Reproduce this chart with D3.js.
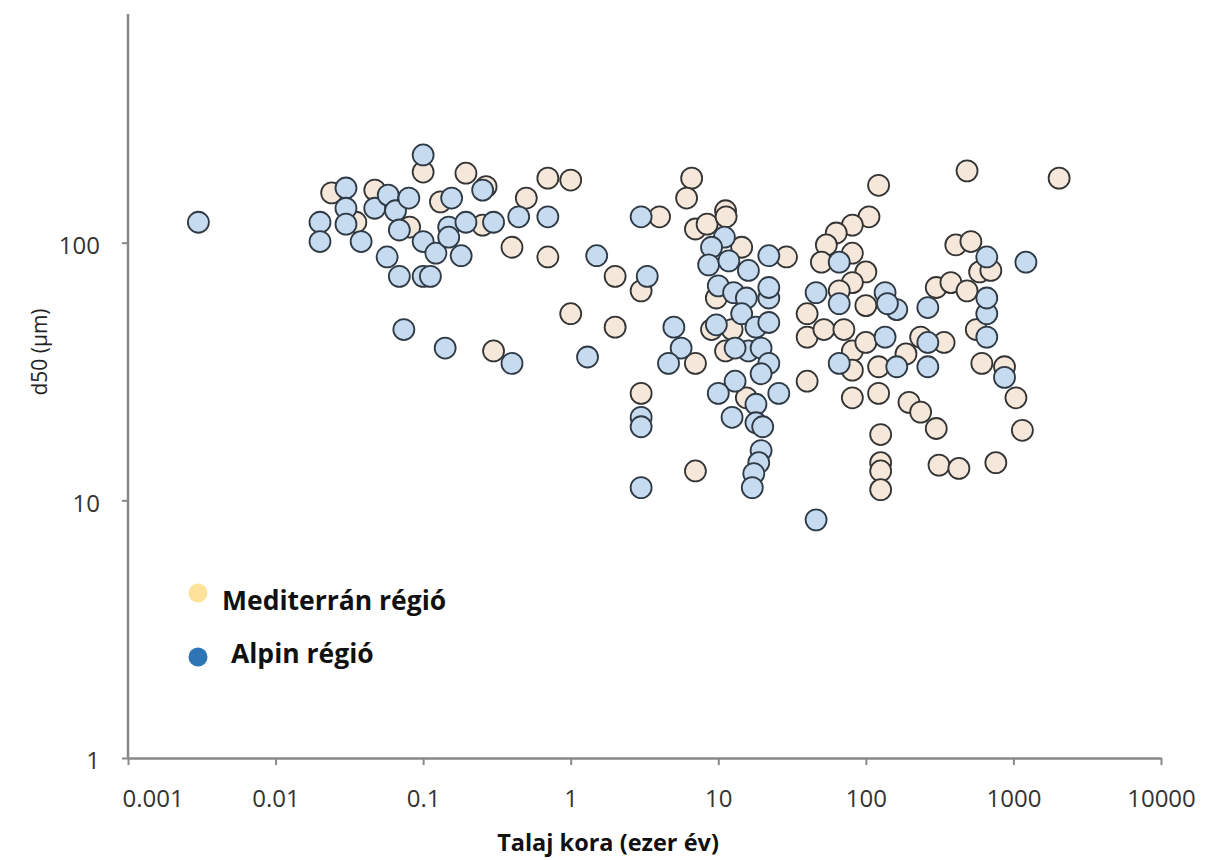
<!DOCTYPE html>
<html>
<head>
<meta charset="utf-8">
<script src="https://cdnjs.cloudflare.com/ajax/libs/d3/7.8.5/d3.min.js"></script>
<style>
  body { margin: 0; background: #fff; }
  svg { display: block; }
</style>
</head>
<body>
<svg class="plot" width="1214" height="860"></svg>
<script>

// soil age (thousand years) and d50 (µm)
var medAge = [0.024, 0.035, 0.047, 0.081, 0.1, 0.195, 0.267, 0.131, 0.253, 0.4, 0.5, 0.7, 1.0, 0.7, 1.0, 0.3,
    2.0, 3.0, 2.0, 3.0, 4.0, 6.6, 6.1, 7.0, 8.4, 11.2, 11.3, 14.4, 29, 9.7, 9.0, 12.4, 11.2, 7.0, 15.5, 7.0,
    40, 40, 40, 122, 485, 2040, 105, 81, 63, 54, 50, 81, 100, 81, 66, 52, 71, 100, 81, 81, 100, 122, 187,
    300, 377, 235, 339, 81, 122, 196, 235, 300, 126, 126, 126, 126, 313, 427, 760, 1150, 1040, 611, 560,
    485, 590, 703, 407, 515, 870]
var medD50 = [156, 120, 160, 115, 188, 186, 165, 144, 117, 96, 149, 178, 175, 88, 53, 38,
    74, 65, 47, 26, 126, 178, 149, 113, 118, 133, 126, 96, 88, 61, 46, 46, 38, 34, 25, 13,
    53, 43, 29, 167, 190, 178, 126, 117, 109, 98, 84, 91, 77, 70, 65, 46, 46, 57, 38, 32, 41, 33, 37,
    67, 70, 43, 41, 25, 26, 24, 22, 19, 18, 14, 13, 11, 13.7, 13.3, 14, 18.7, 25, 34, 46,
    65, 77, 78, 98, 101, 33]

var alpAge = [0.003, 0.02, 0.02, 0.03, 0.03, 0.03, 0.038, 0.047, 0.058, 0.065, 0.08, 0.069, 0.1, 0.1,
    0.057, 0.069, 0.1, 0.112, 0.122, 0.156, 0.149, 0.149, 0.181, 0.195, 0.253, 0.3, 0.444, 0.7, 0.074,
    0.141, 0.4, 1.5, 3.3, 1.3, 3.0, 5.0, 5.6, 4.6, 3.0, 3.0, 3.0, 11, 9.0, 8.6, 11.8, 16, 22, 10, 12.7,
    15.5, 22, 22, 14.4, 18, 22, 9.7, 16, 13, 19.5, 22, 19.5, 13, 10, 25.7, 18, 12.4, 18, 20, 19.5, 18.8,
    17.4, 17, 46, 66, 46, 66, 135, 162, 140, 66, 135, 162, 263, 263, 263, 870, 660, 660, 660, 660, 1215]
var alpD50 = [120, 120, 101, 163, 136, 118, 101, 136, 153, 133, 149, 112, 219, 101,
    88, 74, 74, 74, 91, 149, 115, 105, 89, 120, 160, 120, 126, 126, 46,
    39, 34, 89, 74, 36, 126, 47, 39, 34, 21, 19.3, 11.2, 105, 96, 82, 85, 78, 89, 68, 64,
    61, 61, 67, 53, 47, 49, 48, 38, 39, 39, 34, 31, 29, 26, 26, 23.6, 21, 20, 19.3, 15.6, 14,
    12.7, 11.2, 8.4, 84, 64, 58, 64, 55, 58, 34, 43, 33, 56, 41, 33, 30, 43, 53, 61, 88, 84]

var xTicks = [0.001, 0.01, 0.1, 1, 10, 100, 1000, 10000]
var yTicks = [1, 10, 100]
var legendNames = ["Mediterrán régió", "Alpin régió"]
var legendColors = ["#fde29a", "#2e75b6"]

var margin = {top: 14, left: 128, bottom: 102, right: 53}
var width = 1214 - margin.left - margin.right,
    height = 860 - margin.top - margin.bottom

var svg = d3.select(".plot")
var plot = svg.append("g")
    .attr("transform", `translate(${margin.left}, ${margin.top})`)

var x = d3.scaleLog().domain([0.001, 10000]).range([0, width])
// top of the axis sits a bit under 1000
var y = d3.scaleLog().domain([1, 1000]).range([height, -29])

var font = "'Open Sans', 'DejaVu Sans', sans-serif"

// points
var med = medAge.map((a, i) => ({age: a, d50: medD50[i]}))
var alp = alpAge.map((a, i) => ({age: a, d50: alpD50[i]}))

plot.append("g").selectAll("circle")
    .data(med)
    .enter()
    .append("circle")
    .attr("cx", d => x(d.age))
    .attr("cy", d => y(d.d50))
    .attr("r", 10.5)
    .attr("fill", "#f5e8da")
    .attr("stroke", "#343434")
    .attr("stroke-width", 1.8)

plot.append("g").selectAll("circle")
    .data(alp)
    .enter()
    .append("circle")
    .attr("cx", d => x(d.age))
    .attr("cy", d => y(d.d50))
    .attr("r", 10.5)
    .attr("fill", "#c6daf0")
    .attr("stroke", "#2f3a44")
    .attr("stroke-width", 1.8)

// y axis
var yAxis = plot.append("g")
    .call(d3.axisLeft(y).tickValues(yTicks).tickFormat(d3.format("d")).tickSize(6).tickPadding(22))
yAxis.select(".domain").remove()
yAxis.append("line")
    .attr("x1", 0).attr("x2", 0)
    .attr("y1", 0).attr("y2", height)
    .attr("stroke", "#888").attr("stroke-width", 2.5)
yAxis.selectAll(".tick line").attr("stroke", "#888").attr("stroke-width", 2)
yAxis.selectAll(".tick text")
    .attr("font-family", font).attr("font-size", 24).attr("fill", "#333")
    .attr("dy", "0.45em")

// x axis
var xAxis = plot.append("g")
    .attr("transform", `translate(0, ${height})`)
    .call(d3.axisBottom(x).tickValues(xTicks).tickFormat(d => String(d)).tickSizeInner(7).tickSizeOuter(0).tickPadding(25))
xAxis.select(".domain").attr("stroke", "#888").attr("stroke-width", 2.5)
xAxis.selectAll(".tick line").attr("stroke", "#888").attr("stroke-width", 2)
xAxis.selectAll(".tick text").attr("font-family", font).attr("font-size", 24).attr("fill", "#333")
// first label is pushed inside, like in the original
xAxis.selectAll(".tick text").filter(d => d === xTicks[0])
    .attr("text-anchor", "start").attr("x", -6)

// axis titles
svg.append("text")
    .attr("transform", "translate(47, 352) rotate(-90)")
    .attr("text-anchor", "middle")
    .attr("font-family", font)
    .attr("font-size", 21)
    .attr("fill", "#222")
    .text("d50 (µm)")

svg.append("text")
    .attr("x", 608).attr("y", 851)
    .attr("text-anchor", "middle")
    .attr("font-family", font)
    .attr("font-size", 23.5)
    .attr("font-weight", "bold")
    .attr("fill", "#111")
    .text("Talaj kora (ezer év)")

// legend
var legend = svg.append("g").selectAll("g")
    .data(legendNames)
    .enter()
    .append("g")
    .attr("transform", (d, i) => `translate(198, ${593 + i * 64})`)

legend.append("circle")
    .attr("r", 9.5)
    .attr("fill", (d, i) => legendColors[i])

legend.append("text")
    .attr("x", (d, i) => i == 0 ? 24 : 33)
    .attr("y", (d, i) => i == 0 ? 17 : 6)
    .attr("font-family", font)
    .attr("font-size", 26.5)
    .attr("font-weight", "bold")
    .attr("fill", "#111")
    .text(d => d)

</script>
</body>
</html>
